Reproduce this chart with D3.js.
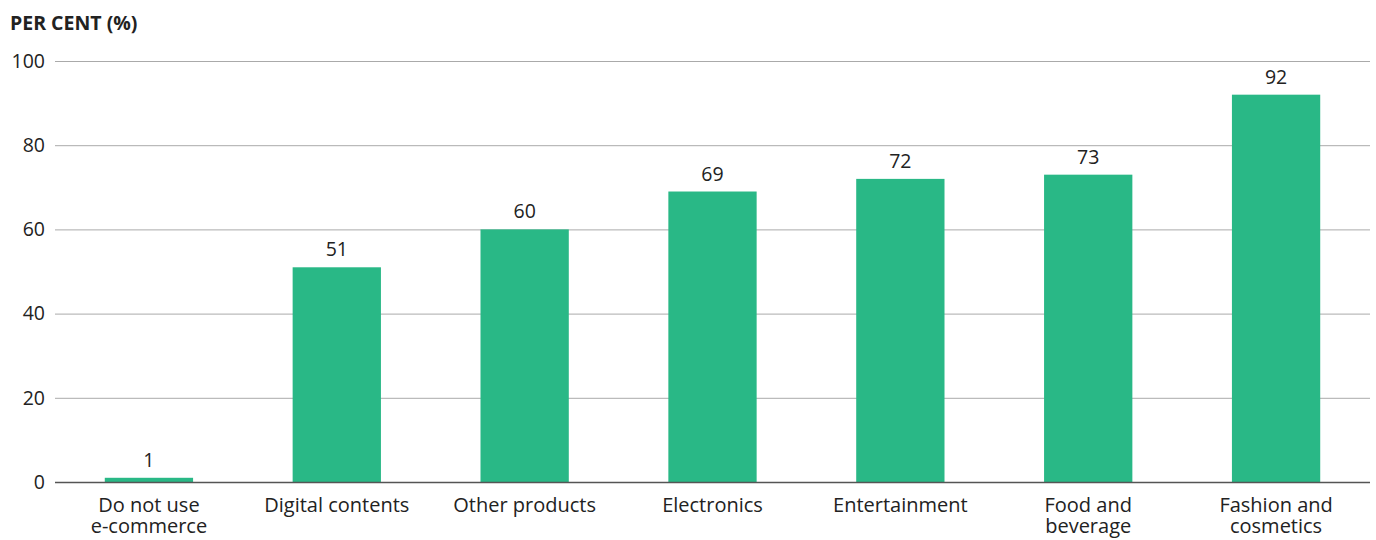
<!DOCTYPE html>
<html><head><meta charset="utf-8">
<script src="https://cdn.jsdelivr.net/npm/d3@7"></script>
<style>
body{margin:0;background:#fff;}
text{font-family:"Open Sans","Noto Sans",sans-serif;fill:#222;}
</style></head>
<body><svg id="c" width="1376" height="540"></svg>
<script>
const categories = [["Do not use","e-commerce"],["Digital contents"],["Other products"],["Electronics"],["Entertainment"],["Food and","beverage"],["Fashion and","cosmetics"]];
const values = [1,51,60,69,72,73,92];
const yTicks = [0,20,40,60,80,100];

(function(){
const svg = d3.select("#c");
const mLeft = 55, mRight = 1370, mTop = 61, mBottom = 482;
const fs = 19.5;
const x = d3.scaleBand().domain(d3.range(values.length)).range([mLeft,mRight]).paddingInner(0.53).paddingOuter(0.265);
const y = d3.scaleLinear().domain([0,100]).range([mBottom,mTop]);

svg.append("text").attr("x",10).attr("y",30).attr("font-size",19.5).attr("font-weight",700).text("PER CENT (%)");

const g = svg.append("g");
g.selectAll("line.grid").data(yTicks.filter(d=>d>0)).join("line")
  .attr("x1",mLeft).attr("x2",mRight).attr("y1",d=>y(d)+0.5).attr("y2",d=>y(d)+0.5)
  .attr("stroke","#aaa").attr("stroke-width",1);
g.selectAll("text.yt").data(yTicks).join("text")
  .attr("x",45).attr("y",d=>y(d)).attr("dy","0.35em").attr("text-anchor","end")
  .attr("font-size",fs).text(d=>d);

g.selectAll("rect").data(values).join("rect")
  .attr("x",(d,i)=>x(i)).attr("width",x.bandwidth())
  .attr("y",d=>y(d)).attr("height",d=>mBottom-y(d)).attr("fill","#29b886");

g.append("line").attr("x1",mLeft).attr("x2",mRight).attr("y1",mBottom+0.5).attr("y2",mBottom+0.5)
  .attr("stroke","#555").attr("stroke-width",1.5);

g.selectAll("text.val").data(values).join("text")
  .attr("x",(d,i)=>x(i)+x.bandwidth()/2).attr("y",d=>y(d)-11)
  .attr("text-anchor","middle").attr("font-size",fs).text(d=>d);

categories.forEach((c,i)=>{
  const t = g.append("text").attr("text-anchor","middle").attr("font-size",20)
    .attr("x",x(i)+x.bandwidth()/2).attr("y",512);
  c.forEach((line,j)=>t.append("tspan").attr("x",x(i)+x.bandwidth()/2).attr("dy",j?21:0).text(line));
});
})();
</script></body></html>
